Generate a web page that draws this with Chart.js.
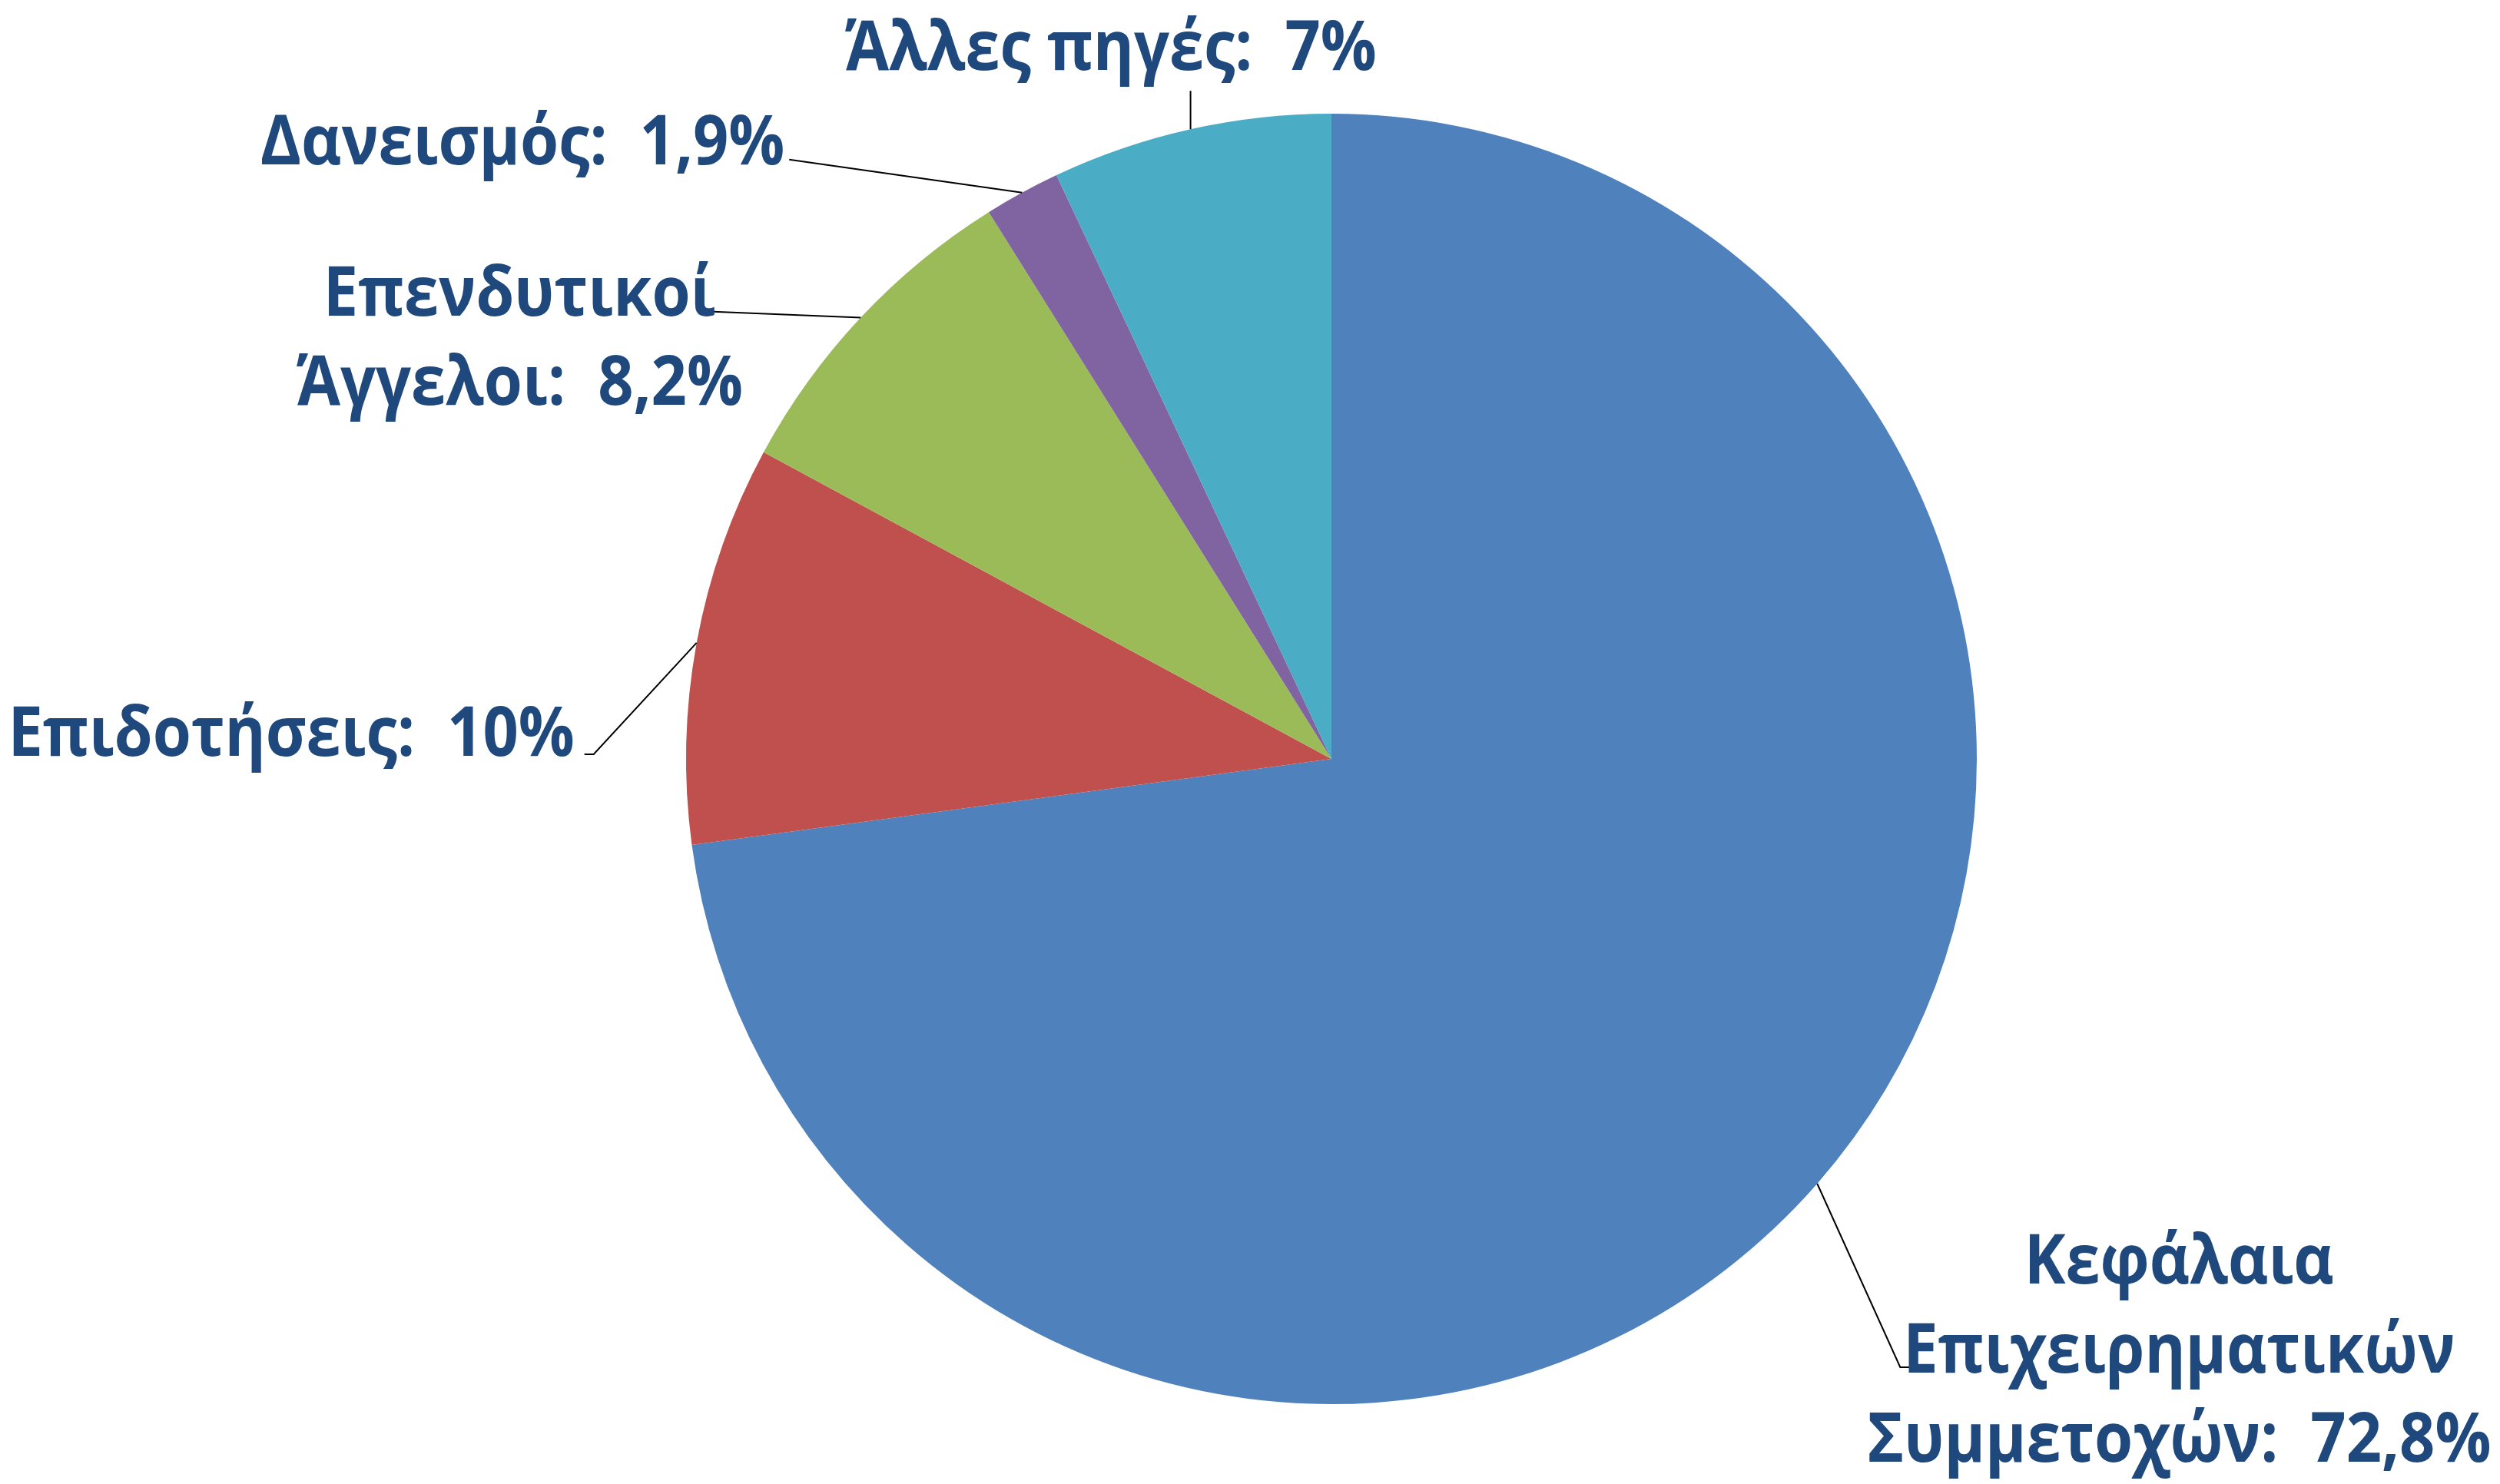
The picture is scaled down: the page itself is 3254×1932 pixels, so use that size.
<!DOCTYPE html>
<html>
<head>
<meta charset="utf-8">
<script src="https://cdn.jsdelivr.net/npm/chart.js@4/dist/chart.umd.min.js"></script>
<style>
  body { margin: 0; background: #fff; }
  canvas { display: block; }
</style>
</head>
<body>
<canvas id="my-chart" width="3254" height="1932"></canvas>
<script>
// data
const categories = ['Κεφάλαια Επιχειρηματικών Συμμετοχών', 'Επιδοτήσεις', 'Επενδυτικοί Άγγελοι', 'Δανεισμός', 'Άλλες πηγές'];
const shares = [72.8, 10, 8.2, 1.9, 7];
const shareText = ['72,8%', '10%', '8,2%', '1,9%', '7%'];
const labelLines = [
  ['Κεφάλαια', 'Επιχειρηματικών', 'Συμμετοχών:  72,8%'],
  ['Επιδοτήσεις:  10%'],
  ['Επενδυτικοί', 'Άγγελοι:  8,2%'],
  ['Δανεισμός:  1,9%'],
  ['Άλλες πηγές:  7%']
];
const sliceColors = ['#4F81BD', '#C0504D', '#9BBB59', '#8064A2', '#4BACC6'];

// leader line bends (relative to the slice edge) and where the text sits (relative to the line end)
const leaderLayout = [
  { path: [[108, 239], [15, 0]], text: [348, -109], align: 'center' },
  { path: [[-134, 145], [-12, 0]], text: [-13, 2], align: 'right' },
  { path: [[-198, -8]], text: [-246, 6], align: 'center' },
  { path: [[-303, -43]], text: [-6, 6], align: 'right' },
  { path: [[0, -50]], text: [-104, -27], align: 'center' }
];

// no Calibri here, so Open Sans squeezed a bit to get the same widths
const labelFont = 'bold 90px "Open Sans", "Noto Sans", sans-serif';
const squeeze = 0.9;
const lineHeight = 116;

const leaderPlugin = {
  id: 'leaders',
  afterDatasetsDraw(chart) {
    const ctx = chart.ctx;
    const arcs = chart.getDatasetMeta(0).data;
    arcs.forEach((arc, i) => {
      const p = arc.getProps(['x', 'y', 'startAngle', 'endAngle', 'outerRadius'], true);
      const mid = (p.startAngle + p.endAngle) / 2;
      let x = p.x + Math.cos(mid) * p.outerRadius;
      let y = p.y + Math.sin(mid) * p.outerRadius;
      const lay = leaderLayout[i];

      ctx.save();
      ctx.strokeStyle = '#000';
      ctx.lineWidth = 2;
      ctx.beginPath();
      ctx.moveTo(x, y);
      lay.path.forEach(step => {
        x += step[0];
        y += step[1];
        ctx.lineTo(x, y);
      });
      ctx.stroke();

      ctx.font = labelFont;
      ctx.fillStyle = '#1F497D';
      ctx.textBaseline = 'alphabetic';
      ctx.textAlign = lay.align;
      labelLines[i].forEach((line, k) => {
        ctx.save();
        ctx.translate(x + lay.text[0], y + lay.text[1] + k * lineHeight);
        ctx.scale(squeeze, 1);
        ctx.fillText(line, 0, 0);
        ctx.restore();
      });
      ctx.restore();
    });
  }
};

const ctx = document.getElementById('my-chart').getContext('2d');
const chart = new Chart(ctx, {
  type: 'pie',
  data: {
    labels: categories,
    datasets: [{
      data: shares,
      backgroundColor: sliceColors,
      borderWidth: 0
    }]
  },
  options: {
    responsive: false,
    animation: false,
    devicePixelRatio: 1,
    layout: { padding: { top: 148, bottom: 104, left: 893, right: 681 } },
    plugins: {
      legend: { display: false },
      tooltip: { enabled: false }
    }
  },
  plugins: [leaderPlugin]
});
</script>
</body>
</html>
